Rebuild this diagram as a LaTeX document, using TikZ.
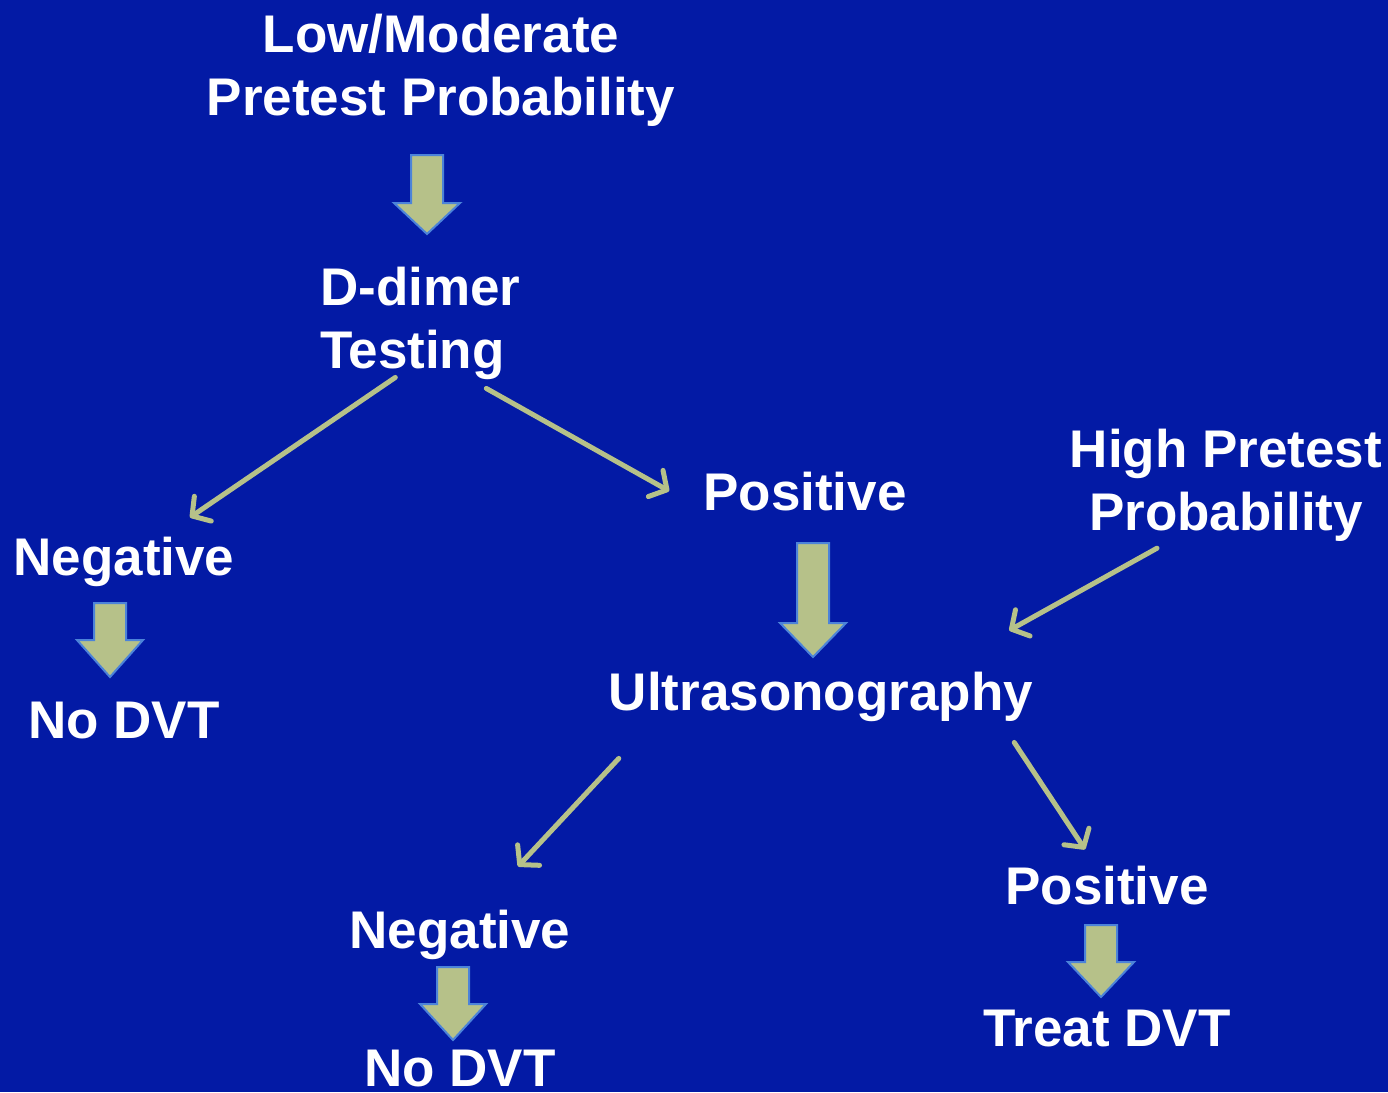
\documentclass[tikz,border=0pt]{standalone}
\usepackage{fontspec}
\setmainfont{Liberation Sans}
\usetikzlibrary{arrows.meta,calc}
\definecolor{Navy}{HTML}{031AA5}
\definecolor{Olive}{HTML}{B6C189}
\definecolor{Edge}{HTML}{4C83D9}
\tikzset{
  stage/.style={text=white,font=\fontsize{53}{63}\selectfont\bfseries,inner sep=0pt,align=center},
  branch/.style={draw=Olive,line width=5pt,line cap=round,-{Straight Barb[length=13pt,width=30pt,round]}},
  fat/.style={fill=Olive,draw=Edge,line width=2pt,line join=miter}
}
% block arrow: centre x, top, start of head, tip
\newcommand\fatarrow[4]{%
  \draw[fat] (#1-16,#2) -- (#1+16,#2) -- (#1+16,#3) -- (#1+33,#3) -- (#1,#4)
    -- (#1-33,#3) -- (#1-16,#3) -- cycle;}
\begin{document}
\begin{tikzpicture}[x=1pt,y=-1pt]
  \fill[Navy] (0,0) rectangle (1388,1092);
  \useasboundingbox (0,0) rectangle (1388,1092);

  % labels (base = last line)
  \node[stage,anchor=base] (lowmod) at (441,115) {Low/Moderate\\Pretest Probability};
  \node[stage,anchor=base west,align=left] (ddimer) at (320,368) {D-dimer\\Testing};
  \node[stage,anchor=base] (pos1) at (805,510) {Positive};
  \node[stage,anchor=base] (high) at (1226,530) {High Pretest\\Probability};
  \node[stage,anchor=base] (neg1) at (124,575) {Negative};
  \node[stage,anchor=base] (nodvt1) at (124,738) {No DVT};
  \node[stage,anchor=base] (us) at (821,710) {Ultrasonography};
  \node[stage,anchor=base] (neg2) at (460,948) {Negative};
  \node[stage,anchor=base] (nodvt2) at (460,1086) {No DVT};
  \node[stage,anchor=base] (pos2) at (1107,904) {Positive};
  \node[stage,anchor=base] (treat) at (1107,1046) {Treat DVT};

  % block arrows
  \fatarrow{427}{155}{203}{234}
  \fatarrow{813}{543}{623}{657}
  \fatarrow{110}{603}{640}{677}
  \fatarrow{453}{967}{1004}{1040}
  \fatarrow{1101}{925}{962}{997}

  % branches
  \draw[branch] ($(ddimer.south)+(-25,-2)$) -- ($(neg1.north)+(66,-19)$);
  \draw[branch] ($(ddimer.south)+(66,9)$) -- ($(pos1.west)+(-34,0)$);
  \draw[branch] ($(high.south)+(-69,7)$) -- ($(us.north east)+(-24,-41)$);
  \draw[branch] ($(us.south west)+(10,37)$) -- ($(neg2.north)+(58,-43)$);
  \draw[branch] ($(us.south east)+(-19,21)$) -- ($(pos2.north)+(-22,-16)$);
\end{tikzpicture}
\end{document}
